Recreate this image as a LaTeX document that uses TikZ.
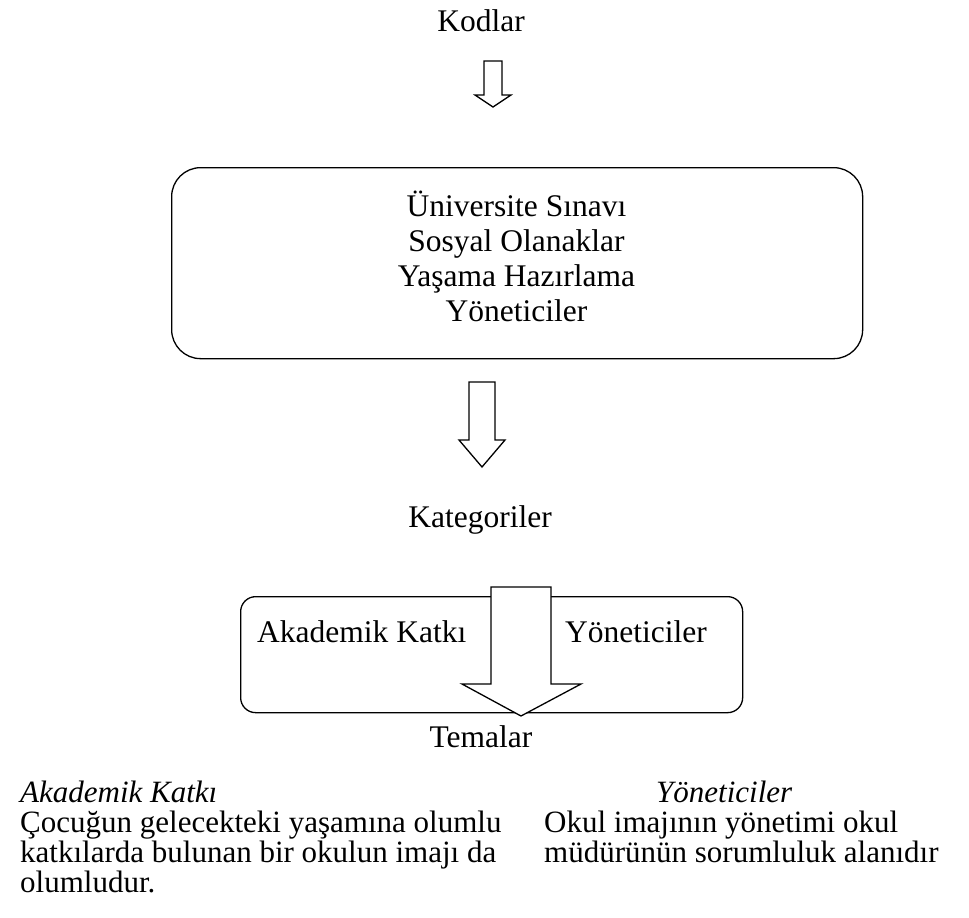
\documentclass[tikz,border=0pt]{standalone}
\usepackage{fontspec}
\setmainfont{Liberation Serif}
\begin{document}
\begin{tikzpicture}[x=1pt,y=-1pt,
  txt/.style={inner sep=0pt,font=\fontsize{31.5}{35}\selectfont},
  small/.style={inner sep=0pt,font=\fontsize{31}{34}\selectfont},
  mid/.style={txt,anchor=base},
  lft/.style={txt,anchor=base west},
  note/.style={small,anchor=base west},
  frame/.style={draw,line width=1.3pt,rounded corners=#1,inner sep=0pt,anchor=north west},
  blockarrow/.style={draw,line width=1.3pt,fill=white,line join=miter}]
\useasboundingbox (0,0) rectangle (969,918);

% top label
\node[mid] (kod) at (481,31) {Kodlar};

% codes box
\node[frame=29pt,minimum width=691pt,minimum height=191pt] (codes) at (171,167) {};
\node[mid] (c1) at (516.5,216) {Üniversite Sınavı};
\node[mid] (c2) at (516.5,251) {Sosyal Olanaklar};
\node[mid] (c3) at (516.5,286) {Yaşama Hazırlama};
\node[mid] (c4) at (516.5,321) {Yöneticiler};

% categories
\node[mid] (kat) at (480,527) {Kategoriler};
\node[frame=15pt,minimum width=502pt,minimum height=116pt] (cats) at (240,596) {};
\node[lft] (k1) at (257,642) {Akademik Katkı};
\node[lft] (k2) at (565,642) {Yöneticiler};

% themes
\node[mid] (tem) at (481,747) {Temalar};

% block arrows
\draw[blockarrow] (484,61) -- (502,61) -- (502,95) -- (511,95) -- (493,107)
  -- (475,95) -- (484,95) -- cycle;
\draw[blockarrow] (469,382) -- (495,382) -- (495,440) -- (505,440) -- (482,467)
  -- (459,440) -- (469,440) -- cycle;
\draw[blockarrow] (491,587) -- (551,587) -- (551,684) -- (581,684) -- (521,716)
  -- (462,684) -- (491,684) -- cycle;

% theme descriptions
\node[note] (t1) at (20,802) {\itshape Akademik Katkı};
\node[note] (t2) at (20,832) {Çocuğun gelecekteki yaşamına olumlu};
\node[note] (t3) at (20,862) {katkılarda bulunan bir okulun imajı da};
\node[note] (t4) at (20,892) {olumludur.};
\node[note] (y1) at (656,802) {\itshape Yöneticiler};
\node[note] (y2) at (544,832) {Okul imajının yönetimi okul};
\node[note] (y3) at (544,862) {müdürünün sorumluluk alanıdır};
\end{tikzpicture}
\end{document}
